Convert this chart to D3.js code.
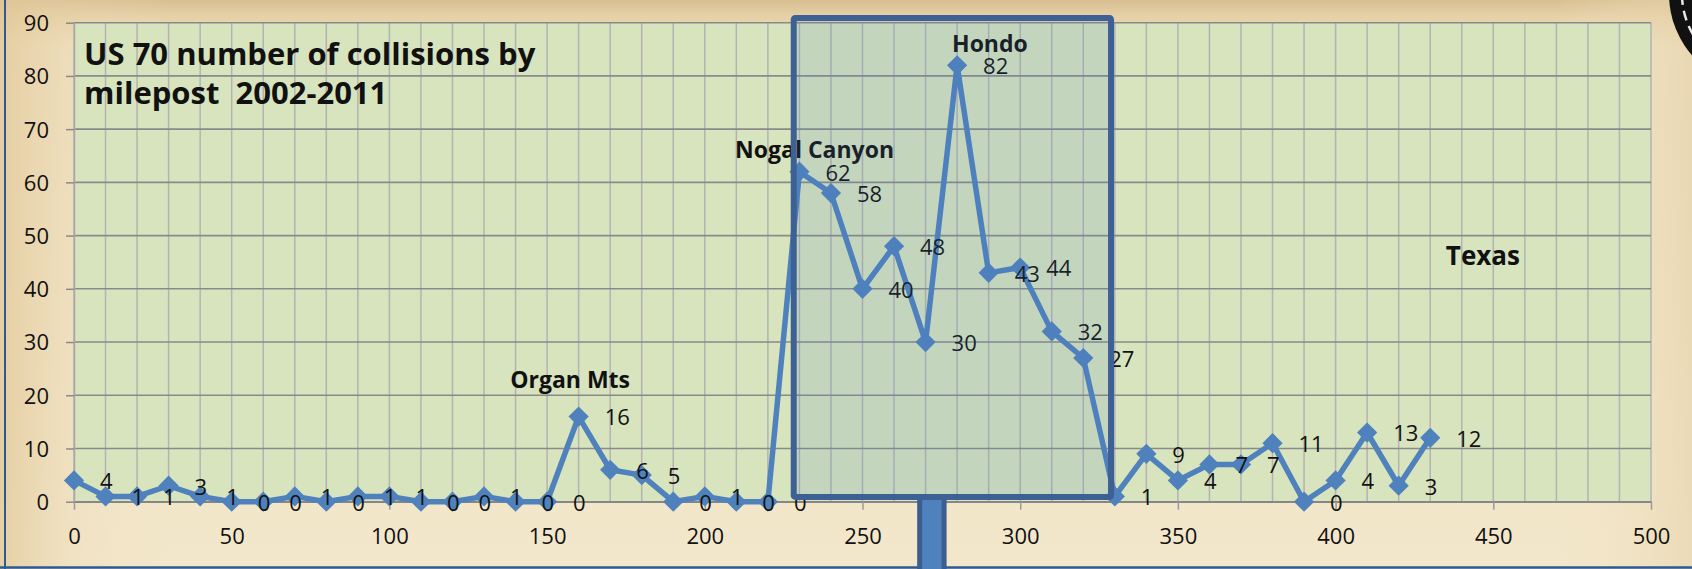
<!DOCTYPE html>
<html>
<head>
<meta charset="utf-8">
<script src="https://cdn.jsdelivr.net/npm/d3@7"></script>
<style>
  body { margin: 0; background: #f1e4c5; }
  svg { display: block; }
  text { font-family: "Open Sans", "Noto Sans", sans-serif; }
</style>
</head>
<body>
<div class="chart"></div>
<script>

// collisions per 10-mile segment along US 70
var milepost = [0, 10, 20, 30, 40, 50, 60, 70, 80, 90, 100, 110, 120, 130, 140, 150,
  160, 170, 180, 190, 200, 210, 220, 230, 240, 250, 260, 270, 280, 290, 300, 310,
  320, 330, 340, 350, 360, 370, 380, 390, 400, 410, 420, 430];
var collisions = [4, 1, 1, 3, 1, 0, 0, 1, 0, 1, 1, 0, 0, 1, 0, 0,
  16, 6, 5, 0, 1, 0, 0, 62, 58, 40, 48, 30, 82, 43, 44, 32,
  27, 1, 9, 4, 7, 7, 11, 0, 4, 13, 3, 12];

var xTicks = [0, 50, 100, 150, 200, 250, 300, 350, 400, 450, 500];
var yTicks = [0, 10, 20, 30, 40, 50, 60, 70, 80, 90];
var gridMiles = d3.range(0, 501, 10);

var titleLines = ["US 70 number of collisions by", "milepost  2002-2011"];
var placeNames = ["Organ Mts", "Nogal Canyon", "Hondo", "Texas"];
var placeMile = [157.3, 234.8, 290.4, 446.7];
var placeLevel = [21.3, 64.6, 84.4, 44.5];

// highlighted stretch (the "sign" drawn over the chart)
var boxMiles = [228.2, 328.8];
var boxLevels = [0.9, 90.9];
var postMile = 272;

var svgWidth = 1692;
var svgHeight = 569;

var margin = {
  top: 22.7,
  bottom: 67.3,
  right: 41,
  left: 74,
};

var width = svgWidth - margin.left - margin.right;
var height = svgHeight - margin.top - margin.bottom;

var svg = d3
  .select(".chart")
  .append("svg")
  .attr("width", svgWidth)
  .attr("height", svgHeight);

// parchment background
var defs = svg.append("defs");
var bgV = defs.append("linearGradient").attr("id", "bgV").attr("x1", 0).attr("y1", 0).attr("x2", 0).attr("y2", 1);
bgV.append("stop").attr("offset", "0%").attr("stop-color", "#d9bf92");
bgV.append("stop").attr("offset", "3%").attr("stop-color", "#e6d1a8");
bgV.append("stop").attr("offset", "8%").attr("stop-color", "#efe0c0");
bgV.append("stop").attr("offset", "100%").attr("stop-color", "#f3e7cb");
var bgH = defs.append("linearGradient").attr("id", "bgH").attr("x1", 0).attr("y1", 0).attr("x2", 1).attr("y2", 0);
bgH.append("stop").attr("offset", "0%").attr("stop-color", "#e2c796").attr("stop-opacity", 0.75);
bgH.append("stop").attr("offset", "4%").attr("stop-color", "#e8d3aa").attr("stop-opacity", 0.3);
bgH.append("stop").attr("offset", "10%").attr("stop-color", "#f1e4c5").attr("stop-opacity", 0);
bgH.append("stop").attr("offset", "92%").attr("stop-color", "#f1e4c5").attr("stop-opacity", 0);
bgH.append("stop").attr("offset", "100%").attr("stop-color", "#e6d2aa").attr("stop-opacity", 0.6);

svg.append("rect").attr("width", svgWidth).attr("height", svgHeight).attr("fill", "url(#bgV)");
svg.append("rect").attr("width", svgWidth).attr("height", svgHeight).attr("fill", "url(#bgH)");

// seal in the top right corner
svg.append("circle").attr("cx", 1762).attr("cy", -6).attr("r", 93).attr("fill", "#111");
svg.append("circle").attr("cx", 1762).attr("cy", -6).attr("r", 80)
  .attr("fill", "none").attr("stroke", "#e8e8e8").attr("stroke-width", 2.5)
  .attr("stroke-dasharray", "10 6");

// blue frame lines
svg.append("line").attr("x1", 5).attr("x2", 5).attr("y1", 0).attr("y2", svgHeight)
  .attr("stroke", "#2e5a94").attr("stroke-width", 2);
svg.append("line").attr("x1", 0).attr("x2", svgWidth).attr("y1", 567.5).attr("y2", 567.5)
  .attr("stroke", "#2e5a94").attr("stroke-width", 2.5);

var chartGroup = svg
  .append("g")
  .attr("class", "chartGroup")
  .attr("transform", `translate(${margin.left}, ${margin.top})`);

var x = d3.scaleLinear().domain([0, 500]).range([0, width]);
var y = d3.scaleLinear().domain([0, 90]).range([height, 0]);

chartGroup.append("rect")
  .attr("width", width)
  .attr("height", height)
  .attr("fill", "#d8e4bd");

// vertical grid every 10 miles
chartGroup.append("g")
  .selectAll("line")
  .data(gridMiles)
  .join("line")
  .attr("x1", d => x(d))
  .attr("x2", d => x(d))
  .attr("y1", 0)
  .attr("y2", height)
  .attr("stroke", "#b3b3b3")
  .attr("stroke-width", 1.5);

// horizontal grid
chartGroup.append("g")
  .selectAll("line")
  .data(yTicks)
  .join("line")
  .attr("x1", 0)
  .attr("x2", width)
  .attr("y1", d => y(d))
  .attr("y2", d => y(d))
  .attr("stroke", "#8a8a8a")
  .attr("stroke-width", 1.6);

var xAxis = d3.axisBottom(x).tickValues(xTicks).tickSize(8).tickSizeOuter(0).tickPadding(19);
var yAxis = d3.axisLeft(y).tickValues(yTicks).tickSize(8).tickSizeOuter(0).tickPadding(17);

var gx = chartGroup.append("g")
  .attr("transform", `translate(0, ${height})`)
  .call(xAxis);
gx.select(".domain").attr("stroke", "#868686").attr("stroke-width", 1.8);
gx.selectAll(".tick line").attr("stroke", "#9a9a9a").attr("stroke-width", 1.5);
gx.selectAll("text")
  .attr("fill", "#111")
  .style("font-size", "22px")
  .style("font-family", "'Open Sans', sans-serif");

var gy = chartGroup.append("g").call(yAxis);
gy.select(".domain").attr("stroke", "#a8a8a8").attr("stroke-width", 1.5);
gy.selectAll(".tick line").attr("stroke", "#8a8a8a").attr("stroke-width", 1.5);
gy.selectAll("text")
  .attr("fill", "#111")
  .attr("dy", "0.36em")
  .style("font-size", "22px")
  .style("font-family", "'Open Sans', sans-serif");

// title
chartGroup.append("g")
  .selectAll("text")
  .data(titleLines)
  .join("text")
  .attr("x", x(3.2))
  .attr("y", (d, i) => (i == 0 ? y(82.1) : y(74.8)))
  .style("font-size", "31px")
  .style("font-weight", "bold")
  .style("white-space", "pre")
  .attr("fill", "#111")
  .text(d => d);

// place names
chartGroup.append("g")
  .selectAll("text")
  .data(placeNames)
  .join("text")
  .attr("x", (d, i) => x(placeMile[i]))
  .attr("y", (d, i) => y(placeLevel[i]))
  .attr("text-anchor", "middle")
  .style("font-size", (d) => (d == "Texas" ? "26px" : "23px"))
  .style("font-weight", "bold")
  .attr("fill", "#111")
  .text(d => d);

var points = milepost.map((m, i) => ({ mile: m, value: collisions[i] }));

var line = d3.line()
  .x(d => x(d.mile))
  .y(d => y(d.value));

chartGroup.append("path")
  .datum(points)
  .attr("d", line)
  .attr("fill", "none")
  .attr("stroke", "#4f81bd")
  .attr("stroke-width", 5.5)
  .attr("stroke-linejoin", "round");

var diamond = d3.symbol().type(d3.symbolSquare).size(205);

chartGroup.append("g")
  .selectAll("path")
  .data(points)
  .join("path")
  .attr("d", diamond)
  .attr("transform", d => `translate(${x(d.mile)}, ${y(d.value)}) rotate(45)`)
  .attr("fill", "#4f81bd");

// data labels to the right of each marker
chartGroup.append("g")
  .selectAll("text")
  .data(points)
  .join("text")
  .attr("x", d => x(d.mile) + 26)
  .attr("y", d => y(d.value) + 1)
  .attr("dy", "0.36em")
  .style("font-size", "22px")
  .attr("fill", "#111")
  .text(d => d.value);

// the sign: translucent board + post
chartGroup.append("rect")
  .attr("x", x(boxMiles[0]))
  .attr("y", y(boxLevels[1]))
  .attr("width", x(boxMiles[1]) - x(boxMiles[0]))
  .attr("height", y(boxLevels[0]) - y(boxLevels[1]))
  .attr("fill", "#4f81bd")
  .attr("fill-opacity", 0.14)
  .attr("stroke", "none");

chartGroup.append("rect")
  .attr("x", x(postMile) - 12.2)
  .attr("y", y(boxLevels[0]))
  .attr("width", 24.4)
  .attr("height", svgHeight)
  .attr("fill", "#4f81bd")
  .attr("stroke", "#3a5e8f")
  .attr("stroke-width", 5);

chartGroup.append("rect")
  .attr("x", x(boxMiles[0]))
  .attr("y", y(boxLevels[1]))
  .attr("width", x(boxMiles[1]) - x(boxMiles[0]))
  .attr("height", y(boxLevels[0]) - y(boxLevels[1]))
  .attr("fill", "none")
  .attr("stroke", "#3d6195")
  .attr("stroke-width", 6)
  .attr("rx", 1.5);

</script>
</body>
</html>
